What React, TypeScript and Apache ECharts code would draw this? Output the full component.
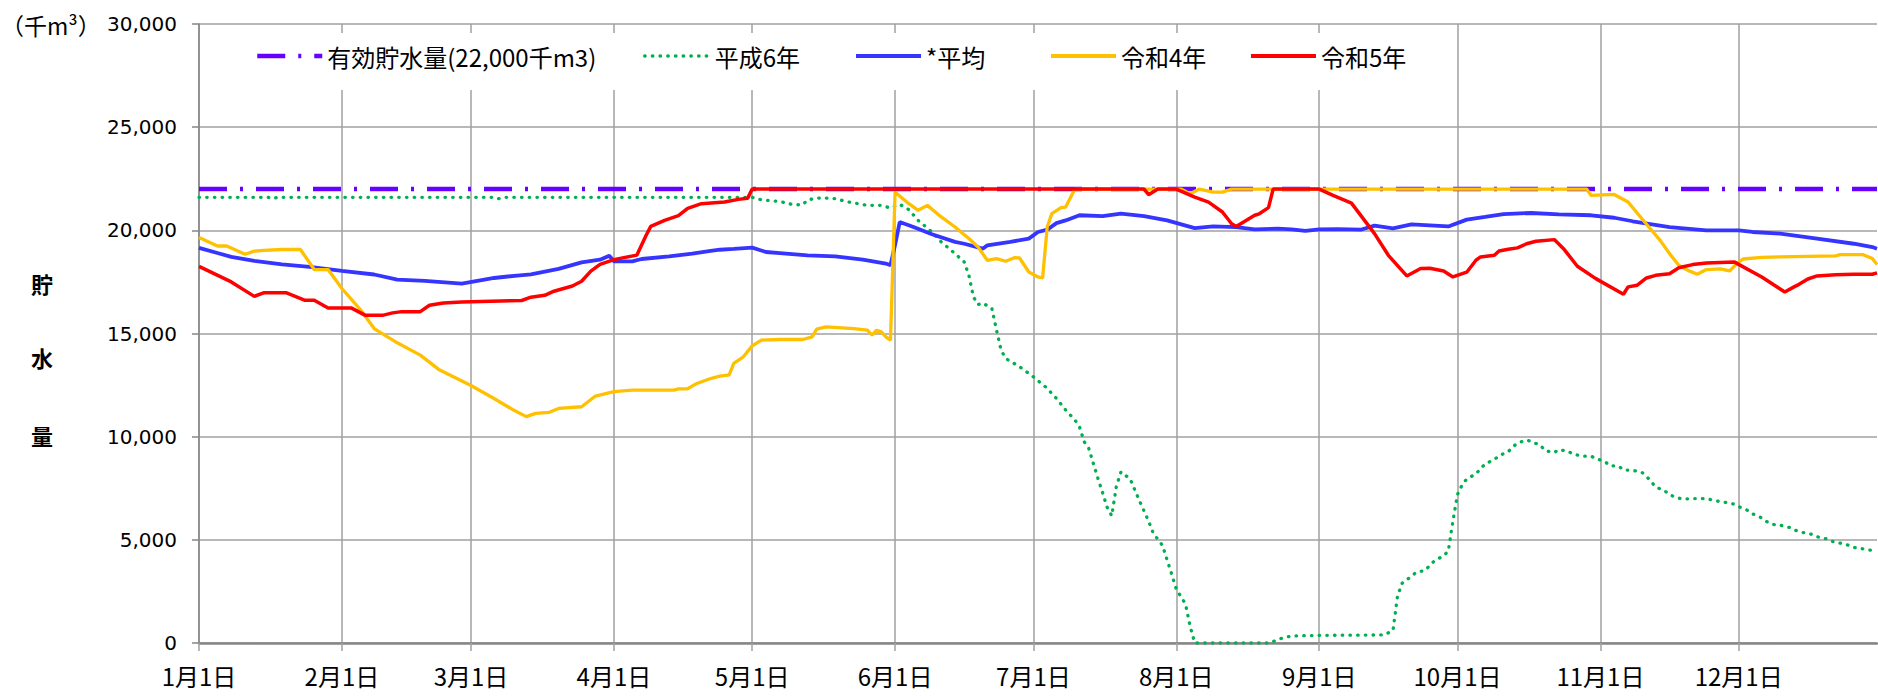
import React, { useEffect, useRef } from "react";
import * as echarts from "echarts";

// ---- categories: every day of a (non-leap) year ----
const monthLengths = [31, 28, 31, 30, 31, 30, 31, 31, 30, 31, 30, 31];
const dayLabels: string[] = [];
const monthStartIdx: number[] = [];
monthLengths.forEach((n, m) => {
  monthStartIdx.push(dayLabels.length);
  for (let d = 1; d <= n; d++) dayLabels.push(`${m + 1}月${d}日`);
});
const lastDay = dayLabels.length - 1;

// ---- series names ----
const capacityName = "有効貯水量(22,000千m3)";
const heiseiName = "平成6年";
const averageName = "*平均";
const r4Name = "令和4年";
const r5Name = "令和5年";

// ---- values [day index from 1月1日 (=0), storage in 千m3] ----
const capacityValue = 22000;

const heisei6: [number, number][] = [
  [0, 21600], [15, 21600], [16, 21530], [17, 21600], [64, 21600], [65, 21530], [66, 21600],
  [120, 21600], [122, 21480], [126, 21400], [129, 21240], [131, 21240], [132, 21480],
  [135, 21580], [138, 21530], [141, 21370], [145, 21210], [148, 21210], [150, 21080],
  [152, 21260], [154, 21000], [156, 20480], [159, 19920], [161, 19440], [164, 18870],
  [166, 18470], [167, 17820], [168, 16770], [169, 16400], [170, 16480], [172, 16210],
  [173, 15160], [174, 14190], [175, 13790], [178, 13390], [181, 12900], [184, 12340],
  [186, 11850], [188, 11290], [190, 10810], [191, 10480], [192, 9760], [193, 9440],
  [194, 8710], [195, 7980], [196, 7290], [197, 6580], [198, 6160], [199, 7600],
  [200, 8290], [202, 7950], [203, 7420], [204, 6900], [206, 5900], [207, 5320],
  [209, 4730], [210, 4030], [211, 3340], [212, 2610], [214, 1890], [215, 810],
  [216, 0], [232, 0], [234, 150], [235, 240], [237, 340], [243, 370], [257, 390],
  [259, 600], [260, 2290], [261, 2900], [263, 3230], [264, 3420], [266, 3520],
  [267, 3760], [268, 3980], [270, 4230], [271, 4450], [272, 5900], [273, 7200],
  [274, 7660], [275, 7950], [277, 8190], [278, 8450], [279, 8680], [281, 8890],
  [282, 9080], [284, 9270], [285, 9500], [286, 9690], [288, 9840], [289, 9760],
  [291, 9580], [292, 9320], [294, 9230], [295, 9370], [297, 9290], [298, 9160],
  [300, 9060], [302, 9050], [303, 8940], [305, 8790], [306, 8600], [308, 8560],
  [309, 8390], [311, 8370], [313, 8270], [314, 8080], [315, 7820], [316, 7560],
  [318, 7370], [319, 7180], [321, 7020], [322, 6980], [324, 7000], [326, 7000],
  [328, 6950], [329, 6890], [331, 6820], [333, 6730], [334, 6610], [336, 6420],
  [337, 6260], [339, 6060], [340, 5890], [342, 5710], [343, 5710], [345, 5600],
  [346, 5480], [348, 5350], [350, 5260], [351, 5150], [353, 5050], [354, 4940],
  [356, 4840], [358, 4730], [359, 4630], [361, 4560], [363, 4480], [364, 4390],
];

const average: [number, number][] = [
  [0, 19150], [4, 18900], [7, 18710], [12, 18520], [18, 18350], [24, 18230],
  [31, 18030], [38, 17860], [43, 17610], [49, 17550], [57, 17420], [61, 17580],
  [64, 17690], [69, 17810], [72, 17870], [78, 18130], [83, 18450], [87, 18580],
  [89, 18770], [90, 18500], [94, 18500], [96, 18610], [102, 18740], [107, 18870],
  [111, 19000], [113, 19060], [116, 19100], [120, 19160], [123, 18950], [126, 18900],
  [132, 18790], [138, 18740], [144, 18580], [149, 18390], [150, 18310], [151, 19300],
  [152, 20400], [155, 20160], [159, 19810], [164, 19440], [166, 19350], [170, 19110],
  [171, 19270], [176, 19440], [180, 19600], [182, 19920], [184, 20030], [186, 20350],
  [188, 20480], [191, 20730], [196, 20690], [200, 20810], [205, 20690], [210, 20480],
  [216, 20110], [220, 20190], [225, 20160], [229, 20050], [234, 20080], [237, 20050],
  [240, 19970], [243, 20050], [247, 20060], [252, 20030], [255, 20230], [259, 20100],
  [263, 20290], [267, 20240], [271, 20190], [275, 20520], [279, 20650], [283, 20790],
  [289, 20840], [295, 20770], [302, 20730], [307, 20610], [311, 20440], [319, 20160],
  [327, 20000], [334, 20000], [337, 19920], [343, 19840], [351, 19600], [359, 19350],
  [363, 19190], [364, 19110],
];

const reiwa4: [number, number][] = [
  [0, 19650], [4, 19240], [6, 19240], [10, 18840], [12, 18990], [14, 19030],
  [18, 19070], [22, 19070], [25, 18100], [28, 18100], [31, 17180], [35, 16160],
  [38, 15240], [43, 14550], [48, 13950], [52, 13260], [59, 12480], [64, 11850],
  [68, 11320], [71, 10970], [73, 11130], [76, 11180], [78, 11370], [83, 11450],
  [86, 11970], [90, 12180], [94, 12260], [103, 12260], [104, 12320], [106, 12320],
  [108, 12580], [111, 12820], [113, 12930], [115, 13000], [116, 13550], [118, 13850],
  [120, 14400], [122, 14680], [126, 14710], [131, 14710], [133, 14840], [134, 15210],
  [136, 15320], [142, 15240], [145, 15160], [146, 14920], [147, 15160], [148, 15080],
  [149, 14840], [150, 14680], [151, 21850], [154, 21290], [156, 20970], [158, 21210],
  [161, 20650], [164, 20160], [167, 19600], [169, 19190], [171, 18550], [173, 18630],
  [175, 18500], [177, 18680], [178, 18660], [180, 17980], [182, 17740], [183, 17690],
  [184, 20160], [185, 20810], [187, 21100], [188, 21130], [190, 22000], [213, 22000],
  [215, 21770], [217, 22000], [220, 21850], [222, 21850], [224, 22000], [301, 22000],
  [302, 21690], [307, 21740], [310, 21370], [313, 20560], [317, 19500], [319, 18870],
  [321, 18310], [323, 18060], [325, 17870], [327, 18100], [330, 18130], [332, 18030],
  [334, 18470], [335, 18610], [339, 18690], [343, 18710], [355, 18760], [356, 18820],
  [361, 18820], [363, 18630], [364, 18340],
];

const reiwa5: [number, number][] = [
  [0, 18250], [7, 17500], [12, 16800], [14, 16970], [19, 16970], [23, 16610],
  [25, 16610], [28, 16240], [33, 16240], [36, 15890], [40, 15890], [42, 16000],
  [44, 16060], [48, 16060], [50, 16370], [53, 16480], [57, 16530], [70, 16600],
  [72, 16760], [75, 16850], [77, 17050], [81, 17300], [83, 17530], [85, 18020],
  [87, 18350], [90, 18580], [95, 18800], [97, 19760], [98, 20190], [101, 20480],
  [104, 20710], [106, 21060], [109, 21290], [114, 21370], [117, 21500], [119, 21550],
  [120, 22000], [205, 22000], [206, 21730], [208, 22000], [212, 22000], [214, 21800],
  [216, 21610], [219, 21370], [222, 20890], [224, 20320], [225, 20190], [229, 20730],
  [230, 20800], [232, 21100], [233, 22000], [243, 22000], [246, 21690], [250, 21320],
  [255, 19840], [258, 18790], [262, 17790], [265, 18150], [267, 18160], [270, 18030],
  [272, 17740], [275, 17970], [277, 18550], [278, 18710], [281, 18790], [282, 19000],
  [284, 19080], [286, 19150], [288, 19350], [290, 19470], [294, 19550], [296, 19110],
  [299, 18260], [303, 17660], [309, 16900], [310, 17260], [312, 17340], [314, 17690],
  [316, 17820], [319, 17900], [321, 18190], [324, 18340], [327, 18420], [333, 18470],
  [339, 17740], [344, 17010], [346, 17260], [347, 17370], [349, 17640], [351, 17790],
  [355, 17850], [359, 17870], [363, 17870], [364, 17940],
];

const yMin = 0;
const yMax = 30000;
const yStep = 5000;
const unitLabel = "（千m³）";
const yAxisTitle = ["貯", "水", "量"];

const isMonthStart = (i: number) => monthStartIdx.indexOf(i) >= 0;

export default function App() {
  const ref = useRef<HTMLDivElement>(null);

  useEffect(() => {
    if (!ref.current) return;
    const chart = echarts.init(ref.current, undefined, { renderer: "svg" });

    const legendCommon = {
      top: 44,
      padding: 0,
      itemWidth: 65,
      itemHeight: 14,
      itemGap: 0,
      selectedMode: false,
      itemStyle: { opacity: 0, color: "rgba(0,0,0,0)", borderWidth: 0 },
      textStyle: {
        fontFamily: "Noto Sans CJK JP",
        fontSize: 24,
        lineHeight: 24,
        color: "#000",
      },
    };

    const titleY = [283, 357, 435];

    chart.setOption({
      animation: false,
      backgroundColor: "#fff",
      grid: { left: 199, right: 1, top: 24, bottom: 54, containLabel: false },
      legend: [
        { ...legendCommon, left: 255, data: [capacityName], lineStyle: { width: 4.5 } },
        { ...legendCommon, left: 643, data: [heiseiName], lineStyle: { width: 3.3 } },
        { ...legendCommon, left: 854, data: [averageName], lineStyle: { width: 4 } },
        { ...legendCommon, left: 1049, data: [r4Name], lineStyle: { width: 4 } },
        { ...legendCommon, left: 1249, data: [r5Name], lineStyle: { width: 4 } },
      ],
      graphic: [
        {
          type: "rect",
          z: 1,
          shape: { x: 236, y: 33, width: 1186, height: 57 },
          style: { fill: "#fff" },
        },
        {
          type: "text",
          x: 1,
          y: 25,
          style: {
            text: unitLabel,
            font: '23px "Noto Sans CJK JP"',
            fill: "#000",
            align: "left",
            verticalAlign: "middle",
          },
        },
        ...yAxisTitle.map((t, i) => ({
          type: "text",
          x: 42,
          y: titleY[i],
          style: {
            text: t,
            font: 'bold 22px "Noto Sans CJK JP"',
            fill: "#000",
            align: "center",
            verticalAlign: "middle",
          },
        })),
      ],
      xAxis: {
        type: "category",
        data: dayLabels,
        boundaryGap: false,
        axisLine: { show: true, lineStyle: { color: "#868686", width: 2.5 } },
        axisTick: {
          show: true,
          interval: (i: number) => isMonthStart(i),
          length: 8,
          lineStyle: { color: "#A0A0A0", width: 1.5 },
        },
        axisLabel: {
          interval: (i: number) => isMonthStart(i),
          margin: 20,
          fontFamily: "Noto Sans CJK JP",
          fontSize: 24,
          color: "#000",
        },
        splitLine: {
          show: true,
          interval: (i: number) => isMonthStart(i),
          lineStyle: { color: "#A0A0A0", width: 1.5 },
        },
      },
      yAxis: {
        type: "value",
        min: yMin,
        max: yMax,
        interval: yStep,
        axisLine: { show: true, lineStyle: { color: "#868686", width: 1.5 } },
        axisTick: { show: true, length: 7, lineStyle: { color: "#868686", width: 1.5 } },
        axisLabel: {
          formatter: (v: number) => v.toLocaleString("en-US"),
          fontFamily: "DejaVu Sans",
          fontSize: 20,
          margin: 22,
          color: "#000",
        },
        splitLine: { show: true, lineStyle: { color: "#A0A0A0", width: 1.5 } },
      },
      series: [
        {
          name: capacityName,
          type: "line",
          symbol: "none",
          data: [
            [0, capacityValue],
            [lastDay, capacityValue],
          ],
          lineStyle: { color: "#6600FF", width: 4.5, type: [28, 13, 3, 13], cap: "butt" },
          itemStyle: { color: "#6600FF" },
        },
        {
          name: heiseiName,
          type: "line",
          symbol: "none",
          data: heisei6,
          lineStyle: { color: "#00B050", width: 3.3, type: [0.5, 7.2], cap: "round" },
          itemStyle: { color: "#00B050" },
        },
        {
          name: averageName,
          type: "line",
          symbol: "none",
          data: average,
          lineStyle: { color: "#3535FF", width: 3.8 },
          itemStyle: { color: "#3535FF" },
        },
        {
          name: r4Name,
          type: "line",
          symbol: "none",
          data: reiwa4,
          lineStyle: { color: "#FFC000", width: 3.3 },
          itemStyle: { color: "#FFC000" },
        },
        {
          name: r5Name,
          type: "line",
          symbol: "none",
          data: reiwa5,
          lineStyle: { color: "#FF0000", width: 3.5 },
          itemStyle: { color: "#FF0000" },
        },
      ],
    });

    return () => chart.dispose();
  }, []);

  return (
    <div
      ref={ref}
      style={{ position: "absolute", left: 0, top: 0, width: 1878, height: 697 }}
    />
  );
}
